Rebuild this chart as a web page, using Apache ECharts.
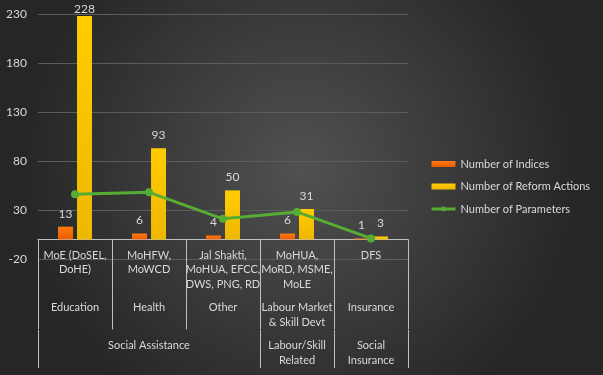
<!DOCTYPE html>
<html><head><meta charset="utf-8">
<script src="https://cdn.jsdelivr.net/npm/echarts@6/dist/echarts.min.js"></script>
<style>html,body{margin:0;padding:0;background:#333}#c{width:603px;height:375px}</style>
</head><body><div id="c"></div>
<script>
const ministries = ['MoE (DoSEL,\nDoHE)', 'MoHFW,\nMoWCD', 'Jal Shakti,\nMoHUA, EFCC,\nDWS, PNG, RD', 'MoHUA,\nMoRD, MSME,\nMoLE', 'DFS'];
const subCategories = ['Education', 'Health', 'Other', 'Labour Market\n& Skill Devt', 'Insurance'];
const groups = ['', 'Social Assistance', '', 'Labour/Skill\nRelated', 'Social\nInsurance'];
const groupStarts = [0, 3, 4];
const indices = [13, 6, 4, 6, 1];
const reformActions = [228, 93, 50, 31, 3];
const parameters = [46, 48, 21, 28, 1];
const yMin = -20, yMax = 230, yInterval = 50;

const FONT = 'Lato';
const TXT = '#d9d9d9';
const LINE = '#bfbfbf';
const GREEN = '#57ad34';

const chart = echarts.init(document.getElementById('c'), null, {renderer: 'canvas'});
const vgrad = (a, b) => new echarts.graphic.LinearGradient(0, 0, 0, 1, [{offset: 0, color: a}, {offset: 1, color: b}]);

chart.setOption({
  animation: false,
  backgroundColor: new echarts.graphic.RadialGradient(0.5, 0.45, 0.75, [
    {offset: 0, color: '#515151'}, {offset: 1, color: '#262626'}
  ]),
  textStyle: {fontFamily: FONT},
  grid: {left: 38, right: 195, top: 14, bottom: 116, containLabel: false},
  legend: {
    orient: 'vertical', left: 430, top: 157, padding: 0,
    itemWidth: 24, itemHeight: 6, itemGap: 8.5,
    textStyle: {color: TXT, fontSize: 11, fontFamily: FONT, lineHeight: 14},
    data: [
      {name: 'Number of Indices', icon: 'rect'},
      {name: 'Number of Reform Actions', icon: 'rect'},
      {name: 'Number of Parameters', lineStyle: {width: 3}}
    ]
  },
  xAxis: [
    {
      type: 'category', data: ministries,
      axisLine: {show: true, onZero: true, lineStyle: {color: LINE, width: 1}},
      axisTick: {show: true, length: 90, lineStyle: {color: LINE}},
      axisLabel: {interval: 0, color: TXT, fontSize: 11, fontFamily: FONT, lineHeight: 14.5, margin: -11}
    },
    {
      type: 'category', data: subCategories, position: 'bottom', offset: 41,
      axisLine: {show: false, onZero: false},
      axisTick: {show: false},
      axisLabel: {interval: 0, color: TXT, fontSize: 11, fontFamily: FONT, lineHeight: 15, margin: 0}
    },
    {
      type: 'category', data: groups, position: 'bottom', offset: 71,
      axisLine: {show: false, onZero: false},
      axisTick: {show: true, length: 38, interval: (i) => groupStarts.includes(i), lineStyle: {color: LINE}},
      axisLabel: {interval: 0, color: TXT, fontSize: 11, fontFamily: FONT, lineHeight: 15, margin: 8}
    }
  ],
  yAxis: {
    type: 'value', min: yMin, max: yMax, interval: yInterval,
    axisLine: {show: false}, axisTick: {show: false},
    axisLabel: {color: TXT, fontSize: 12, fontFamily: FONT, margin: 11},
    splitLine: {lineStyle: {color: '#5c5c5c', width: 1}}
  },
  series: [
    {
      name: 'Number of Indices', type: 'bar', data: indices,
      barWidth: 15, barGap: '27%',
      itemStyle: {color: vgrad('#ff7a10', '#ec5c00')},
      label: {show: true, position: 'top', distance: 7, color: TXT, fontSize: 12, fontFamily: FONT}
    },
    {
      name: 'Number of Reform Actions', type: 'bar',
      data: reformActions.map((v) => v + yInterval > yMax ? {value: v, label: {distance: 1}} : v),
      barWidth: 15,
      itemStyle: {color: vgrad('#ffcc00', '#eeb800')},
      label: {show: true, position: 'top', distance: 7, color: TXT, fontSize: 12, fontFamily: FONT}
    },
    {
      name: 'Number of Parameters', type: 'line', data: parameters, z: 5,
      symbol: 'circle', symbolSize: 8,
      itemStyle: {color: GREEN},
      lineStyle: {color: GREEN, width: 3}
    }
  ]
});
</script>
</body></html>
